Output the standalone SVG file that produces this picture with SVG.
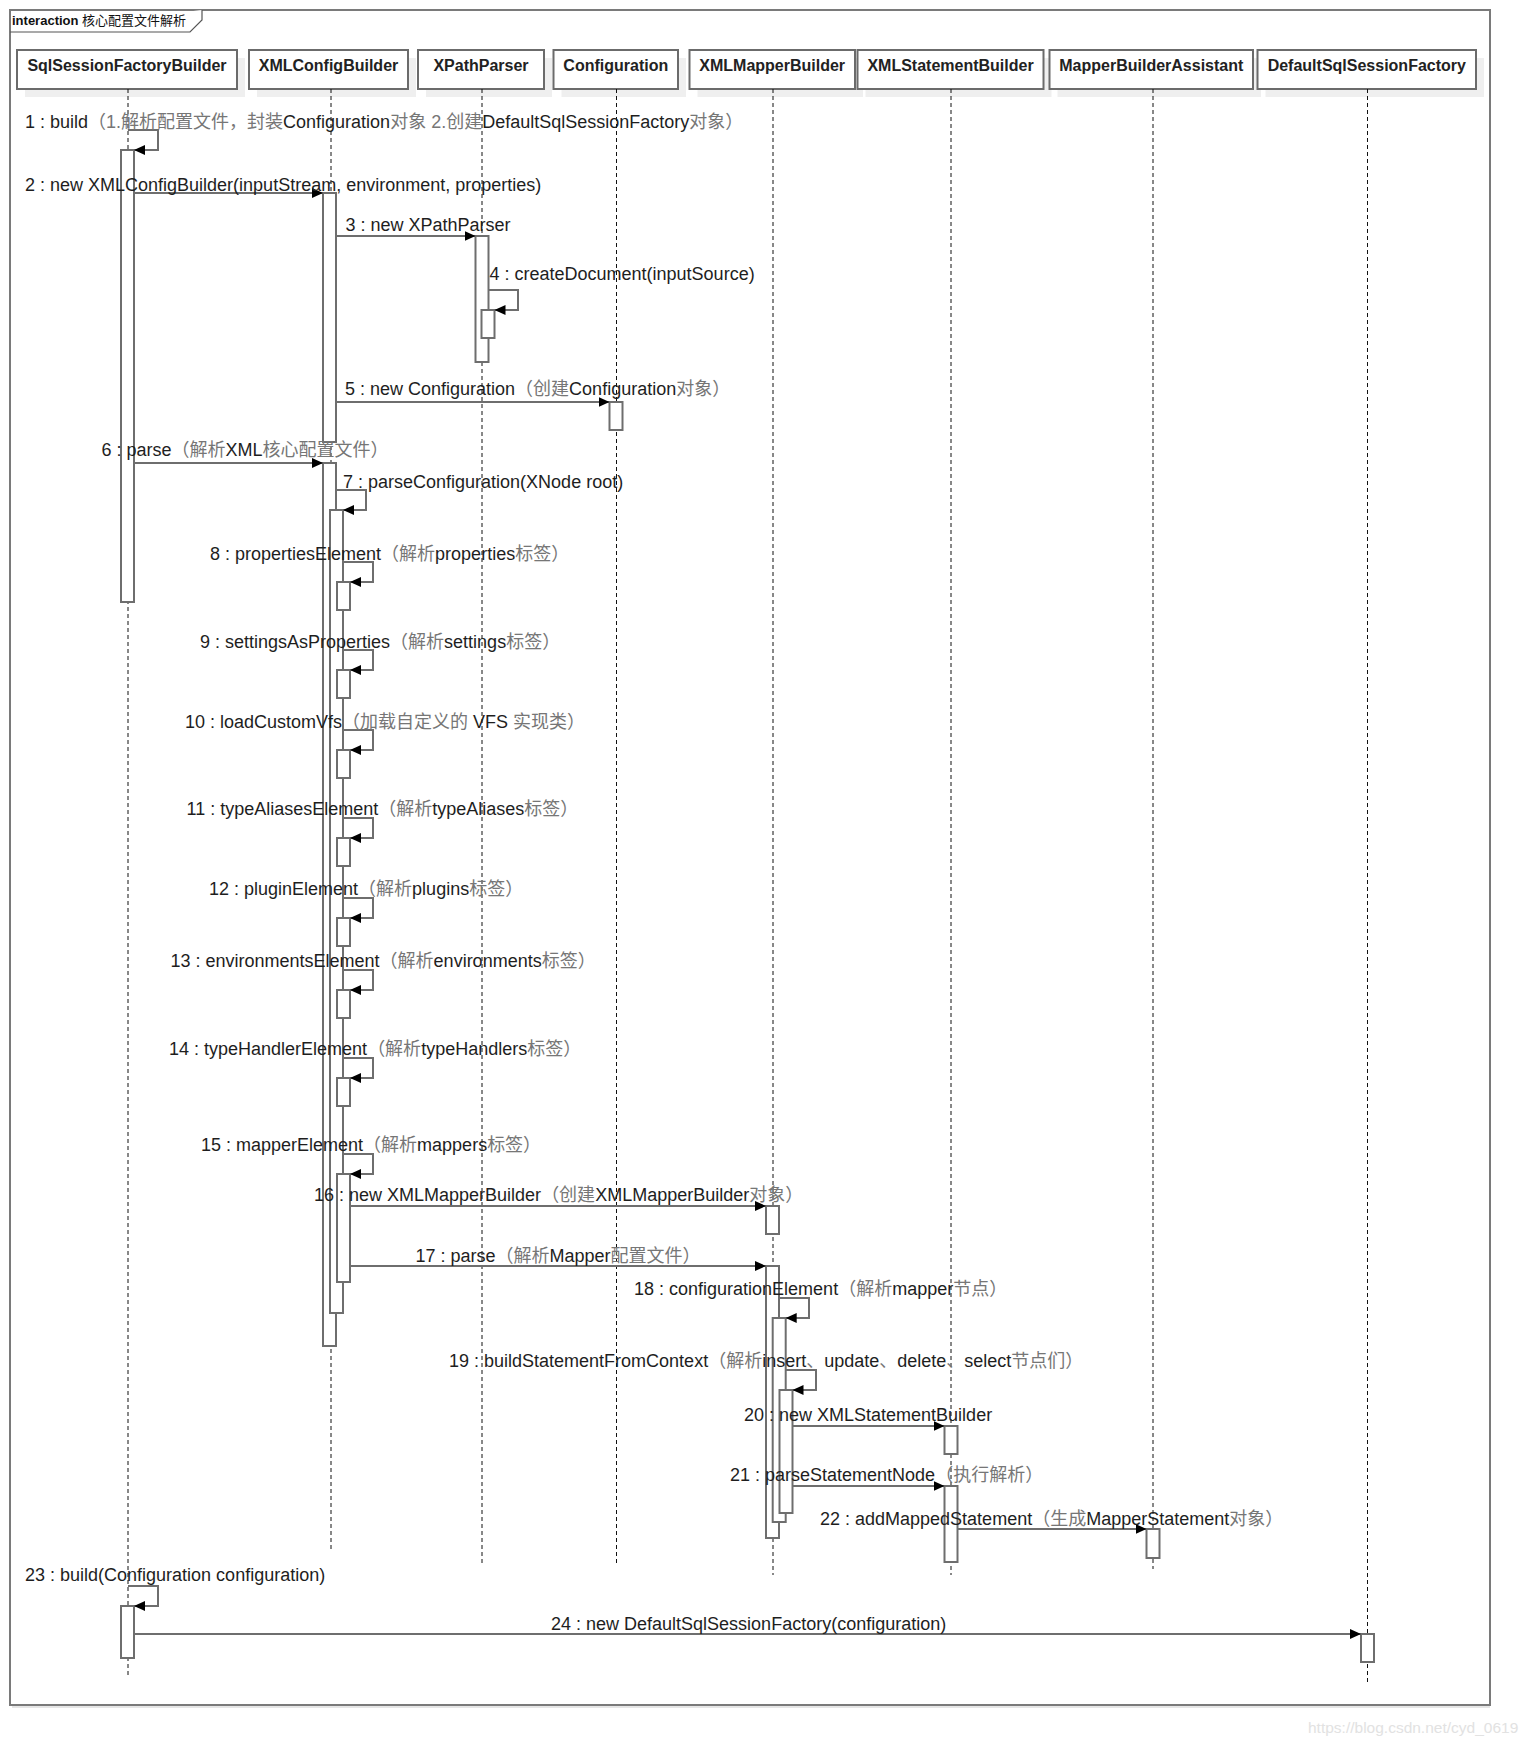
<svg xmlns="http://www.w3.org/2000/svg" width="1530" height="1746" viewBox="0 0 1530 1746">
<style>
.frame{fill:none;stroke:#7a7a7a;stroke-width:2}
.tab{fill:#fff;stroke:#555;stroke-width:1.2}
.ttl{font-family:"Liberation Sans","Noto Sans CJK SC",sans-serif;font-size:13px;fill:#111}
.shadow{fill:#efefef}
.box{fill:#fff;stroke:#6b6b6b;stroke-width:2}
.hdr{font-family:"Liberation Sans","Noto Sans CJK SC",sans-serif;font-size:16px;font-weight:bold;fill:#222;text-anchor:middle}
.life{stroke:#111;stroke-width:1;stroke-dasharray:4 3;fill:none}
.bar{fill:#fff;stroke:#6e6e6e;stroke-width:2}
.msg{fill:none;stroke:#6e6e6e;stroke-width:2;marker-end:url(#ah)}
.lbl{font-family:"Liberation Sans","Noto Sans CJK SC",sans-serif;font-size:18px;fill:#1e1e1e}
.c{fill:#767676}
.wm{font-family:"Liberation Sans",sans-serif;font-size:15.5px;fill:#e2e2e2}
</style>
<defs>
<marker id="ah" markerUnits="userSpaceOnUse" markerWidth="12" markerHeight="11" refX="11" refY="5" orient="auto">
<path d="M0,0 L11,5 L0,10 Z" fill="#000"/>
</marker>
</defs>
<rect width="1530" height="1746" fill="#fff"/>
<line x1="12" y1="1707" x2="1490" y2="1707" stroke="#e6e6e6" stroke-width="2"/>
<rect class="frame" x="10" y="10" width="1480" height="1695"/>
<path class="tab" d="M10,32 H190 L202,20 V10"/>
<text class="ttl" x="12" y="25"><tspan font-weight="bold">interaction</tspan> 核心配置文件解析</text>

<g id="SqlSessionFactoryBuilder">
<rect class="shadow" x="25" y="58" width="220" height="39"/>
<rect class="box" x="17" y="50" width="220" height="39"/>
<text class="hdr" x="127" y="71">SqlSessionFactoryBuilder</text>
<line class="life" x1="128" y1="89" x2="128" y2="1676"/>
<rect class="bar" x="121" y="150" width="13" height="452"/>
<rect class="bar" x="121" y="1606" width="13" height="52"/>
</g>

<g id="XMLConfigBuilder">
<rect class="shadow" x="257" y="58" width="159" height="39"/>
<rect class="box" x="249" y="50" width="159" height="39"/>
<text class="hdr" x="328.5" y="71">XMLConfigBuilder</text>
<line class="life" x1="331" y1="89" x2="331" y2="1552"/>
<rect class="bar" x="323" y="193" width="13" height="249"/>
<rect class="bar" x="323" y="463" width="13" height="883"/>
<rect class="bar" x="330" y="510" width="13" height="803"/>
<rect class="bar" x="337" y="582" width="13" height="28"/>
<rect class="bar" x="337" y="670" width="13" height="28"/>
<rect class="bar" x="337" y="750" width="13" height="28"/>
<rect class="bar" x="337" y="838" width="13" height="28"/>
<rect class="bar" x="337" y="918" width="13" height="28"/>
<rect class="bar" x="337" y="990" width="13" height="28"/>
<rect class="bar" x="337" y="1078" width="13" height="28"/>
<rect class="bar" x="337" y="1174" width="13" height="108"/>
</g>

<g id="XPathParser">
<rect class="shadow" x="426" y="58" width="126" height="39"/>
<rect class="box" x="418" y="50" width="126" height="39"/>
<text class="hdr" x="481" y="71">XPathParser</text>
<line class="life" x1="482" y1="89" x2="482" y2="1563"/>
<rect class="bar" x="475.5" y="236" width="13" height="126"/>
<rect class="bar" x="481.5" y="310" width="13" height="28"/>
</g>

<g id="Configuration">
<rect class="shadow" x="561.5" y="58" width="124.5" height="39"/>
<rect class="box" x="553.5" y="50" width="124.5" height="39"/>
<text class="hdr" x="615.8" y="71">Configuration</text>
<line class="life" x1="616.5" y1="89" x2="616.5" y2="1563"/>
<rect class="bar" x="609.5" y="402" width="13" height="28"/>
</g>

<g id="XMLMapperBuilder">
<rect class="shadow" x="697.5" y="58" width="165.5" height="39"/>
<rect class="box" x="689.5" y="50" width="165.5" height="39"/>
<text class="hdr" x="772.2" y="71">XMLMapperBuilder</text>
<line class="life" x1="773" y1="89" x2="773" y2="1575"/>
<rect class="bar" x="766" y="1206" width="13" height="28"/>
<rect class="bar" x="766" y="1266" width="13" height="272"/>
<rect class="bar" x="772.7" y="1318" width="13" height="204"/>
<rect class="bar" x="779.5" y="1390" width="13" height="123"/>
</g>

<g id="XMLStatementBuilder">
<rect class="shadow" x="865.5" y="58" width="186" height="39"/>
<rect class="box" x="857.5" y="50" width="186" height="39"/>
<text class="hdr" x="950.5" y="71">XMLStatementBuilder</text>
<line class="life" x1="951" y1="89" x2="951" y2="1575"/>
<rect class="bar" x="944.5" y="1426" width="13" height="28"/>
<rect class="bar" x="944.5" y="1486" width="13" height="76"/>
</g>

<g id="MapperBuilderAssistant">
<rect class="shadow" x="1057.5" y="58" width="203.5" height="39"/>
<rect class="box" x="1049.5" y="50" width="203.5" height="39"/>
<text class="hdr" x="1151.3" y="71">MapperBuilderAssistant</text>
<line class="life" x1="1153" y1="89" x2="1153" y2="1569"/>
<rect class="bar" x="1146.5" y="1529" width="13" height="29"/>
</g>

<g id="DefaultSqlSessionFactory">
<rect class="shadow" x="1265.5" y="58" width="218.5" height="39"/>
<rect class="box" x="1257.5" y="50" width="218.5" height="39"/>
<text class="hdr" x="1366.8" y="71">DefaultSqlSessionFactory</text>
<line class="life" x1="1367.5" y1="89" x2="1367.5" y2="1683"/>
<rect class="bar" x="1361" y="1634" width="13" height="28"/>
</g>

<g id="connectors">
<path class="msg" d="M128,130 H158 V150 H134"/>
<path class="msg" d="M134,193 H323"/>
<path class="msg" d="M336,236 H475.5"/>
<path class="msg" d="M488.5,290 H518 V310 H494.5"/>
<path class="msg" d="M336,402 H609.5"/>
<path class="msg" d="M134,463 H323"/>
<path class="msg" d="M336,490 H366 V510 H343"/>
<path class="msg" d="M343,562 H373 V582 H350"/>
<path class="msg" d="M343,650 H373 V670 H350"/>
<path class="msg" d="M343,730 H373 V750 H350"/>
<path class="msg" d="M343,818 H373 V838 H350"/>
<path class="msg" d="M343,898 H373 V918 H350"/>
<path class="msg" d="M343,970 H373 V990 H350"/>
<path class="msg" d="M343,1058 H373 V1078 H350"/>
<path class="msg" d="M343,1154 H373 V1174 H350"/>
<path class="msg" d="M350,1206 H766"/>
<path class="msg" d="M350,1266 H766"/>
<path class="msg" d="M779,1298 H809 V1318 H785.7"/>
<path class="msg" d="M785.7,1370 H816 V1390 H792.5"/>
<path class="msg" d="M792.5,1426 H944.5"/>
<path class="msg" d="M792.5,1486 H944.5"/>
<path class="msg" d="M957.5,1529 H1146.5"/>
<path class="msg" d="M128,1586 H158 V1606 H134"/>
<path class="msg" d="M134,1634 H1361"/>

<text class="lbl" x="25" y="128">1 : build<tspan class="c">（1.解析配置文件，封装</tspan>Configuration<tspan class="c">对象 2.创建</tspan>DefaultSqlSessionFactory<tspan class="c">对象）</tspan></text>
<text class="lbl" x="25" y="191">2 : new XMLConfigBuilder(inputStream, environment, properties)</text>
<text class="lbl" x="345.5" y="231">3 : new XPathParser</text>
<text class="lbl" x="489.5" y="280">4 : createDocument(inputSource)</text>
<text class="lbl" x="345" y="395">5 : new Configuration<tspan class="c">（创建</tspan>Configuration<tspan class="c">对象）</tspan></text>
<text class="lbl" x="101.5" y="456">6 : parse<tspan class="c">（解析</tspan>XML<tspan class="c">核心配置文件）</tspan></text>
<text class="lbl" x="343" y="488">7 : parseConfiguration(XNode root)</text>
<text class="lbl" x="210" y="560">8 : propertiesElement<tspan class="c">（解析</tspan>properties<tspan class="c">标签）</tspan></text>
<text class="lbl" x="200" y="648">9 : settingsAsProperties<tspan class="c">（解析</tspan>settings<tspan class="c">标签）</tspan></text>
<text class="lbl" x="185" y="728">10 : loadCustomVfs<tspan class="c">（加载自定义的 </tspan>VFS<tspan class="c"> 实现类）</tspan></text>
<text class="lbl" x="186.5" y="815">11 : typeAliasesElement<tspan class="c">（解析</tspan>typeAliases<tspan class="c">标签）</tspan></text>
<text class="lbl" x="209" y="895">12 : pluginElement<tspan class="c">（解析</tspan>plugins<tspan class="c">标签）</tspan></text>
<text class="lbl" x="170.5" y="967">13 : environmentsElement<tspan class="c">（解析</tspan>environments<tspan class="c">标签）</tspan></text>
<text class="lbl" x="169" y="1055">14 : typeHandlerElement<tspan class="c">（解析</tspan>typeHandlers<tspan class="c">标签）</tspan></text>
<text class="lbl" x="201" y="1151">15 : mapperElement<tspan class="c">（解析</tspan>mappers<tspan class="c">标签）</tspan></text>
<text class="lbl" x="314" y="1201">16 : new XMLMapperBuilder<tspan class="c">（创建</tspan>XMLMapperBuilder<tspan class="c">对象）</tspan></text>
<text class="lbl" x="415.5" y="1262">17 : parse<tspan class="c">（解析</tspan>Mapper<tspan class="c">配置文件）</tspan></text>
<text class="lbl" x="634" y="1295">18 : configurationElement<tspan class="c">（解析</tspan>mapper<tspan class="c">节点）</tspan></text>
<text class="lbl" x="449" y="1367">19 : buildStatementFromContext<tspan class="c">（解析</tspan>insert<tspan class="c">、</tspan>update<tspan class="c">、</tspan>delete<tspan class="c">、</tspan>select<tspan class="c">节点们）</tspan></text>
<text class="lbl" x="744" y="1421">20 : new XMLStatementBuilder</text>
<text class="lbl" x="730" y="1481">21 : parseStatementNode<tspan class="c">（执行解析）</tspan></text>
<text class="lbl" x="820" y="1525">22 : addMappedStatement<tspan class="c">（生成</tspan>MapperStatement<tspan class="c">对象）</tspan></text>
<text class="lbl" x="25" y="1581">23 : build(Configuration configuration)</text>
<text class="lbl" x="551" y="1630">24 : new DefaultSqlSessionFactory(configuration)</text>
</g>

<text class="wm" x="1308" y="1733">https://blog.csdn.net/cyd_0619</text>
</svg>
